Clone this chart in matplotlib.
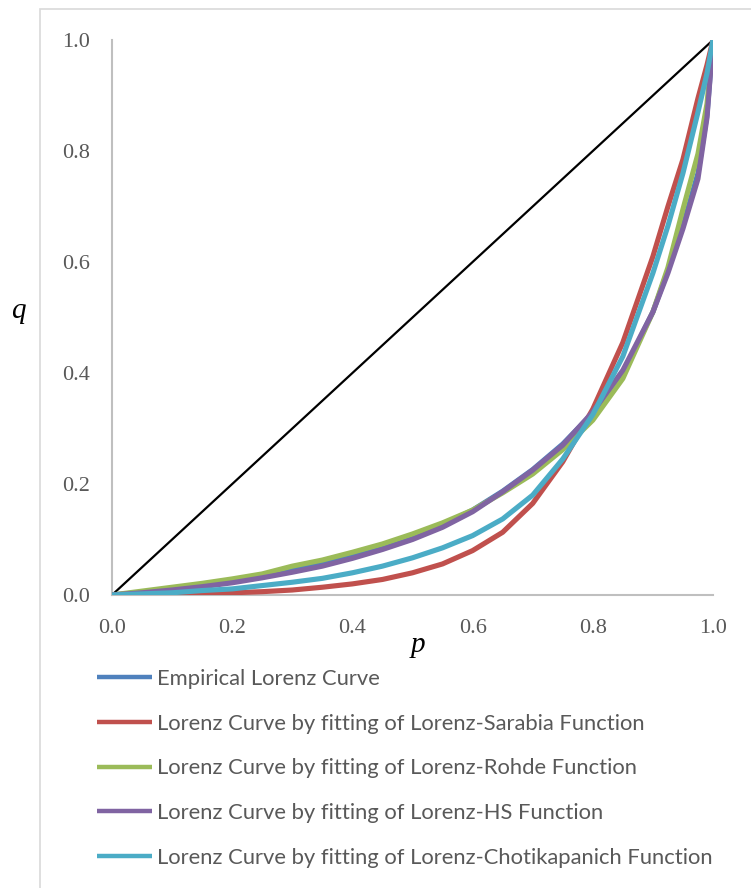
import matplotlib
matplotlib.use('Agg')
import matplotlib.pyplot as plt
from matplotlib.patches import Rectangle

# population share p and income share q
p = [0, 0.05, 0.1, 0.15, 0.2, 0.25, 0.3, 0.35, 0.4, 0.45, 0.5, 0.55, 0.6,
     0.65, 0.7, 0.75, 0.8, 0.85, 0.9, 0.925, 0.95, 0.975, 0.99, 1.0]

q_empirical = [0, 0.005, 0.011, 0.018, 0.025, 0.034, 0.045, 0.057, 0.071, 0.087,
               0.105, 0.126, 0.153, 0.187, 0.226, 0.272, 0.328, 0.400, 0.510,
               0.585, 0.665, 0.760, 0.865, 1.0]
q_sarabia = [0, 0.0003, 0.001, 0.002, 0.004, 0.006, 0.009, 0.014, 0.020, 0.028,
             0.040, 0.056, 0.080, 0.113, 0.165, 0.240, 0.335, 0.455, 0.610,
             0.700, 0.785, 0.895, 0.955, 1.0]
q_rohde = [0, 0.007, 0.014, 0.021, 0.029, 0.038, 0.052, 0.063, 0.077, 0.092,
           0.110, 0.130, 0.153, 0.184, 0.218, 0.262, 0.315, 0.390, 0.510,
           0.590, 0.695, 0.795, 0.885, 1.0]
q_hs = [0, 0.004, 0.009, 0.015, 0.022, 0.031, 0.041, 0.052, 0.066, 0.082,
        0.100, 0.122, 0.150, 0.186, 0.225, 0.270, 0.330, 0.405, 0.510,
        0.580, 0.660, 0.750, 0.860, 1.0]
q_choti = [0, 0.002, 0.004, 0.008, 0.011, 0.017, 0.023, 0.030, 0.040, 0.052,
           0.067, 0.085, 0.107, 0.137, 0.180, 0.245, 0.325, 0.430, 0.580,
           0.665, 0.760, 0.870, 0.940, 1.0]

equality = [0, 1.0]

labels = ['Empirical Lorenz Curve',
          'Lorenz Curve by fitting of Lorenz-Sarabia Function',
          'Lorenz Curve by fitting of Lorenz-Rohde Function',
          'Lorenz Curve by fitting of Lorenz-HS Function',
          'Lorenz Curve by fitting of Lorenz-Chotikapanich Function']
colours = ['#4F81BD', '#C0504D', '#9BBB59', '#8064A2', '#4BACC6']
ticks = [0.0, 0.2, 0.4, 0.6, 0.8, 1.0]

W, H = 751, 888
fig = plt.figure(figsize=(W/100, H/100), dpi=100)
ax = fig.add_axes([112/W, (H-595)/H, 601/W, 555/H])

# light chart border (only left/top are inside the picture)
fig.patches.append(Rectangle((40/W, -0.1), 2, (H-9)/H + 0.1, transform=fig.transFigure,
                             fill=False, edgecolor='#D9D9D9', linewidth=1.2))

ax.plot(equality, equality, c='k', linewidth=1.6, zorder=2)
series = [q_empirical, q_sarabia, q_rohde, q_hs, q_choti]
for i in range(0, len(series)):
	ax.plot(p, series[i], c=colours[i], label=labels[i], linewidth=3.7,
	        solid_capstyle='butt', solid_joinstyle='round', zorder=3+i)

ax.set_xlim(0, 1.0)
ax.set_ylim(0, 1.0)
ax.set_xticks(ticks)
ax.set_yticks(ticks)
ax.set_xticklabels(['{:.1f}'.format(t) for t in ticks])
ax.set_yticklabels(['{:.1f}'.format(t) for t in ticks])
ax.tick_params(length=0, labelsize=16, labelcolor='#595959')
for lab in ax.get_xticklabels() + ax.get_yticklabels():
	lab.set_family('Liberation Serif')
ax.tick_params(axis='x', pad=17)
ax.tick_params(axis='y', pad=16)

for s in ['top', 'right']:
	ax.spines[s].set_visible(False)
for s in ['left', 'bottom']:
	ax.spines[s].set_color('#BFBFBF')
	ax.spines[s].set_linewidth(1.5)
	ax.spines[s].set_zorder(1)

fig.text(18/W, 1-311/H, 'q', family='Liberation Serif', style='italic', fontsize=21,
         ha='center', va='center')
fig.text(418/W, 1-645/H, 'p', family='Liberation Serif', style='italic', fontsize=21,
         ha='center', va='center')

leg = fig.legend(loc='upper left', bbox_to_anchor=(88/W, 1-660/H), frameon=False,
                 prop={'family': 'Lato', 'size': 15.8}, handlelength=2.5,
                 handletextpad=0.23, labelspacing=1.13, borderaxespad=0)
for t in leg.get_texts():
	t.set_color('#595959')
for l in leg.get_lines():
	l.set_linewidth(3.2)

fig.savefig('out.png', dpi=100)
plt.close()
